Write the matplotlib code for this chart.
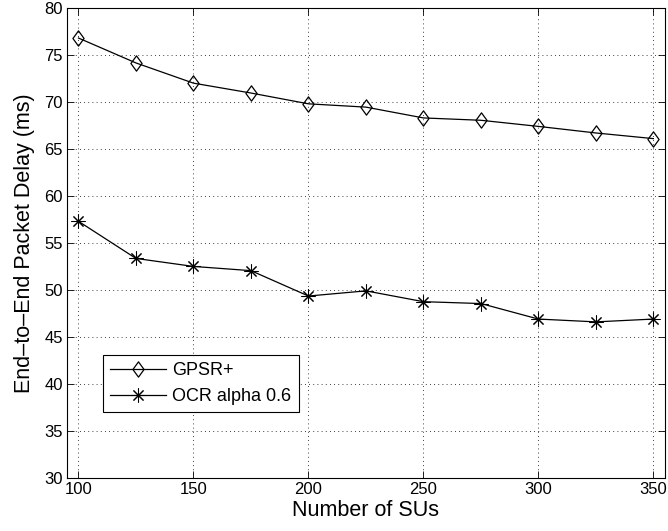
import matplotlib
matplotlib.use("Agg")
import matplotlib.pyplot as plt
from matplotlib.path import Path

plt.rcParams['font.family'] = ['Liberation Sans', 'DejaVu Sans']

n_sus = [100, 125, 150, 175, 200, 225, 250, 275, 300, 325, 350]
gpsr = [76.8, 74.15, 72.0, 70.95, 69.8, 69.45, 68.3, 68.05, 67.4, 66.7, 66.1]
ocr = [57.3, 53.35, 52.5, 52.05, 49.35, 49.9, 48.75, 48.55, 46.9, 46.6, 46.9]

xticks = [100, 150, 200, 250, 300, 350]
yticks = [30, 35, 40, 45, 50, 55, 60, 65, 70, 75, 80]

diamond = Path([(0, 1), (0.73, 0), (0, -1), (-0.73, 0), (0, 1)],
               [Path.MOVETO, Path.LINETO, Path.LINETO, Path.LINETO, Path.CLOSEPOLY])

fig = plt.figure(figsize=(6.68, 5.31), dpi=100)
ax = fig.add_axes([0.1003, 0.1, 0.895, 0.885])

ax.plot(n_sus, gpsr, color='black', lw=0.9, marker=diamond, markersize=11,
        markerfacecolor='none', markeredgecolor='black', markeredgewidth=0.9, label='GPSR+')
ax.plot(n_sus, ocr, color='black', lw=0.9, marker=(8, 2, 0), markersize=10,
        markeredgecolor='black', markeredgewidth=0.75, label='OCR alpha 0.6')

ax.set_xlim(95, 355)
ax.set_ylim(30, 80)
ax.set_xticks(xticks)
ax.set_yticks(yticks)
ax.tick_params(direction='in', top=True, right=True, labelsize=12, length=5, width=0.6, pad=3)
ax.grid(True, linestyle=(0, (1, 4)), color='black', lw=0.6)
for s in ax.spines.values():
    s.set_linewidth(0.8)

ax.set_xlabel('Number of SUs', fontsize=15.5, labelpad=2)
ax.set_ylabel('End\u2013to\u2013End Packet Delay (ms)', fontsize=15.5, labelpad=7)

leg = ax.legend(loc='lower left', bbox_to_anchor=(0.06, 0.14), borderaxespad=0, fontsize=13,
                frameon=True, fancybox=False, edgecolor='black', framealpha=1,
                handlelength=3.1, handletextpad=0.35, borderpad=0.4, labelspacing=0.5)
leg.get_frame().set_linewidth(0.8)

fig.savefig('out.png', dpi=100)
